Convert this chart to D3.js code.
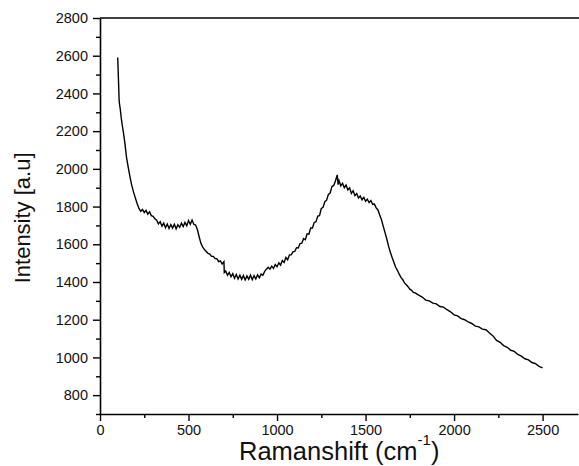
<!DOCTYPE html>
<html>
<head>
<meta charset="utf-8">
<script src="https://cdn.jsdelivr.net/npm/d3@7"></script>
<style>
  body { margin: 0; background: #fff; }
  svg { font-family: "Liberation Sans", Arial, sans-serif; }
</style>
</head>
<body>
<div id="grafico"></div>
<script>
const margin = { top: 18, left: 100, bottom: 52, right: 0 };
const width  = 579 - margin.left - margin.right;
const height = 466 - margin.top - margin.bottom;

// spectrum
const ramanShift = [
  100, 104, 108, 110, 114, 120, 126, 132, 140, 150, 160, 170, 180, 190, 200, 210, 220, 230, 240, 250,
  260, 270, 280, 290, 300, 310, 320, 330, 340, 350, 360, 370, 380, 390, 400, 410, 420, 430, 440, 450,
  460, 470, 480, 490, 500, 510, 520, 530, 540, 550, 560, 570, 580, 590, 600, 610, 620, 630, 640, 650,
  660, 670, 680, 690, 700, 702, 710, 720, 730, 740, 750, 760, 770, 780, 790, 800, 810, 820, 830, 840,
  850, 860, 870, 880, 890, 900, 910, 920, 930, 940, 950, 960, 970, 980, 990, 1000, 1010, 1020, 1030, 1040,
  1050, 1060, 1070, 1080, 1090, 1100, 1110, 1120, 1130, 1140, 1150, 1160, 1170, 1180, 1190, 1200, 1210, 1220, 1230, 1240,
  1250, 1260, 1270, 1280, 1290, 1300, 1310, 1320, 1330, 1340, 1345, 1350, 1360, 1370, 1380, 1390, 1400, 1410, 1420, 1430,
  1440, 1450, 1460, 1470, 1480, 1490, 1500, 1510, 1520, 1530, 1540, 1550, 1560, 1570, 1580, 1590, 1600, 1610, 1620, 1630,
  1640, 1650, 1660, 1670, 1680, 1690, 1700, 1710, 1720, 1730, 1740, 1750, 1760, 1770, 1780, 1800, 1820, 1840, 1860, 1880,
  1900, 1920, 1940, 1960, 1980, 2000, 2020, 2040, 2060, 2080, 2100, 2120, 2140, 2160, 2180, 2200, 2220, 2240, 2260, 2280,
  2300, 2320, 2340, 2360, 2380, 2400, 2420, 2440, 2460, 2480, 2500
];
const intensity = [
  2590, 2480, 2365, 2345, 2320, 2270, 2230, 2195, 2140, 2060, 2005, 1955, 1910, 1875, 1845, 1815, 1790, 1775, 1785, 1768,
  1780, 1760, 1772, 1752, 1748, 1735, 1728, 1708, 1720, 1696, 1712, 1688, 1708, 1684, 1704, 1686, 1706, 1682, 1704, 1690,
  1712, 1694, 1716, 1698, 1726, 1706, 1728, 1706, 1702, 1678, 1640, 1605, 1585, 1572, 1562, 1552, 1548, 1536, 1536, 1524,
  1524, 1508, 1512, 1496, 1508, 1450, 1458, 1436, 1450, 1428, 1444, 1420, 1440, 1416, 1436, 1414, 1434, 1411, 1432, 1414,
  1436, 1412, 1434, 1416, 1438, 1422, 1442, 1436, 1456, 1468, 1478, 1468, 1484, 1472, 1492, 1481, 1502, 1490, 1514, 1504,
  1530, 1518, 1544, 1544, 1560, 1562, 1582, 1580, 1604, 1606, 1630, 1624, 1656, 1654, 1686, 1686, 1716, 1720, 1750, 1752,
  1790, 1796, 1826, 1834, 1864, 1872, 1906, 1912, 1936, 1968, 1916, 1938, 1910, 1924, 1900, 1914, 1888, 1899, 1870, 1884,
  1858, 1869, 1846, 1856, 1836, 1849, 1828, 1839, 1821, 1832, 1812, 1813, 1793, 1782, 1755, 1730, 1695, 1662, 1628, 1590,
  1558, 1530, 1505, 1478, 1462, 1442, 1425, 1412, 1395, 1385, 1375, 1362, 1356, 1345, 1342, 1330, 1320, 1304, 1300, 1288,
  1284, 1270, 1267, 1253, 1242, 1226, 1220, 1206, 1200, 1188, 1180, 1166, 1162, 1150, 1147, 1130, 1114, 1090, 1080, 1063,
  1054, 1038, 1032, 1016, 1007, 993, 987, 973, 967, 953, 945
];

const xTicks = [0, 500, 1000, 1500, 2000, 2500];
const yTicks = [800, 1000, 1200, 1400, 1600, 1800, 2000, 2200, 2400, 2600, 2800];

const data = ramanShift.map((x, i) => ({ x: x, y: intensity[i] }));

const svg = d3.select("#grafico")
              .append("svg")
              .attr("width", width + margin.left + margin.right)
              .attr("height", height + margin.top + margin.bottom)
              .append("g")
              .attr("transform", `translate(${margin.left}, ${margin.top})`);

const xScale = d3.scaleLinear()
                 .domain([0, 2700])
                 .range([0, 478]);

const yScale = d3.scaleLinear()
                 .domain([700, 2800])
                 .range([height, 0]);

// minor ticks
svg.append("g")
   .attr("transform", `translate(0, ${height})`)
   .call(d3.axisBottom(xScale).tickValues(d3.range(250, 2700, 500)).tickSize(4).tickFormat(""))
   .call(g => g.select(".domain").remove());

svg.append("g")
   .call(d3.axisLeft(yScale).tickValues(d3.range(700, 2800, 200)).tickSize(4).tickFormat(""))
   .call(g => g.select(".domain").remove());

// major ticks
svg.append("g")
   .attr("transform", `translate(0, ${height})`)
   .call(d3.axisBottom(xScale).tickValues(xTicks).tickFormat(d3.format("d"))
           .tickSize(7).tickPadding(4).tickSizeOuter(0));

svg.append("g")
   .call(d3.axisLeft(yScale).tickValues(yTicks).tickFormat(d3.format("d"))
           .tickSize(7).tickPadding(5).tickSizeOuter(0));

svg.selectAll(".tick line").attr("stroke", "#000").attr("stroke-width", 1.4);
svg.selectAll(".domain").attr("stroke", "#000").attr("stroke-width", 1.6);
svg.selectAll(".tick text").attr("font-size", 14.5).attr("fill", "#111")
   .attr("font-family", "'Liberation Sans', Arial, sans-serif");

// top frame line
svg.append("line")
   .attr("x1", 0).attr("x2", width)
   .attr("y1", 0).attr("y2", 0)
   .attr("stroke", "#000")
   .attr("stroke-width", 1.6);

svg.append("path")
   .datum(data)
   .attr("d", d3.line().x(d => xScale(d.x)).y(d => yScale(d.y)))
   .attr("stroke", "black")
   .style("stroke-width", 1.4)
   .style("fill", "none");

// axis titles
const xLabel = svg.append("text")
   .attr("x", 139)
   .attr("y", height + 46)
   .attr("font-size", 25.5)
   .attr("fill", "#111");
xLabel.append("tspan").text("Ramanshift (cm");
xLabel.append("tspan").attr("font-size", 15).attr("dy", -15).text("-1");
xLabel.append("tspan").attr("dy", 15).text(")");

svg.append("text")
   .attr("transform", `translate(-70, ${yScale(1740)}) rotate(-90)`)
   .attr("text-anchor", "middle")
   .attr("font-size", 22)
   .attr("fill", "#111")
   .text("Intensity [a.u]");
</script>
</body>
</html>
